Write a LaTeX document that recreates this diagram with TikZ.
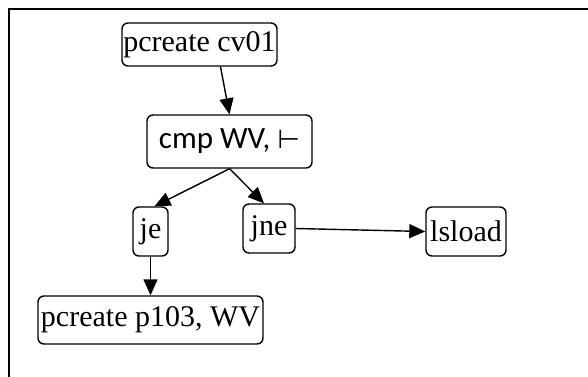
\documentclass[tikz,border=0pt]{standalone}
\usepackage{fontspec}
\setmainfont{Liberation Serif}
\newfontfamily\cmpfont{Carlito}
\newfontfamily\symfont{DejaVu Sans}
\usepackage{xcolor}
\usepackage{tikz}
\usetikzlibrary{arrows.meta}
\definecolor{ink}{HTML}{000000}
\tikzset{
  frame/.style={draw=ink, line width=1.4pt},
  blk/.style={draw=ink, line width=1.4pt, rounded corners=6pt, inner sep=1pt,
    font=\fontsize{30}{32}\selectfont, text=ink},
  flow/.style={draw=ink, line width=1.4pt, -{Triangle[length=16pt,width=14pt]}},
}

\begin{document}
\begin{tikzpicture}[x=1pt,y=-1pt]
  \useasboundingbox (0,0) rectangle (588,376);
  \draw[frame] (9,400) -- (9,9) -- (600,9);

  % blocks
  \node[blk, minimum width=155pt, minimum height=43pt] (cv) at (199.5,44.5) {pcreate cv01};
  \node[blk, minimum width=165pt, minimum height=53pt] (cmp) at (229.5,141.5)
    {\cmpfont\fontsize{31}{33}\selectfont cmp WV, {\symfont\fontsize{26}{28}\selectfont ⊢}};
  \node[blk, minimum width=35pt, minimum height=49pt] (je) at (150.5,231.5) {je};
  \node[blk, minimum width=52pt, minimum height=49pt] (jne) at (269,228.5) {jne};
  \node[blk, minimum width=80pt, minimum height=49pt] (ls) at (466,231.5) {lsload};
  \node[blk, minimum width=225pt, minimum height=48pt] (p103) at (150.5,320) {pcreate p103, WV};

  % edges
  \draw[flow] ([xshift=21pt]cv.south) -- (cmp.north);
  \draw[flow] (cmp.south) -- ([xshift=4pt]je.north);
  \draw[flow] (cmp.south) -- ([xshift=-5pt]jne.north);
  \draw[flow] (je.south) -- (p103.north);
  \draw[flow] (jne.east) -- (ls.west);
\end{tikzpicture}
\end{document}
